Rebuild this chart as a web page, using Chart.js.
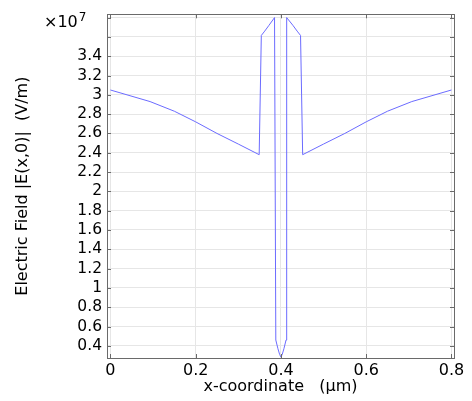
<!DOCTYPE html>
<html>
<head>
<meta charset="utf-8">
<script src="https://cdn.jsdelivr.net/npm/chart.js@4"></script>
<style>
  html, body { margin: 0; padding: 0; background: #fff; }
  #wrap { width: 472px; height: 401px; }
</style>
</head>
<body>
<div id="wrap"><canvas id="fieldChart"></canvas></div>
<script>
// field magnitude along the cut line, x in µm, E in V/m
const xCoord = [0, 0.093, 0.15, 0.2, 0.25, 0.3, 0.349, 0.354, 0.362, 0.372, 0.385,
  0.388, 0.393, 0.397, 0.4, 0.403, 0.407, 0.412, 0.4135, 0.428, 0.438, 0.446, 0.451,
  0.5, 0.55, 0.6, 0.65, 0.707, 0.8];
const fieldE = [3.05e7, 2.93e7, 2.83e7, 2.72e7, 2.60e7, 2.49e7, 2.38e7, 3.615e7, 3.66e7, 3.72e7, 3.80e7,
  0.46e7, 0.37e7, 0.31e7, 0.285e7, 0.31e7, 0.37e7, 0.46e7, 3.80e7, 3.72e7, 3.66e7, 3.615e7, 2.38e7,
  2.49e7, 2.60e7, 2.72e7, 2.83e7, 2.93e7, 3.05e7];

const xTicks = [0, 0.2, 0.4, 0.6, 0.8];
const yTicks = [0.4e7, 0.6e7, 0.8e7, 1.0e7, 1.2e7, 1.4e7, 1.6e7, 1.8e7, 2.0e7, 2.2e7,
  2.4e7, 2.6e7, 2.8e7, 3.0e7, 3.2e7, 3.4e7, 3.6e7, 3.8e7];
const yLabelMax = 3.4e7; // labels above this are left blank under the exponent

const FONT = "'DejaVu Sans', sans-serif";

// inward tick marks on all four sides, box outline and the exponent
const frame = {
  id: "frame",
  afterDraw(chart) {
    const { ctx, chartArea: a, scales } = chart;
    ctx.save();
    ctx.strokeStyle = "#6a6a6a";
    ctx.lineWidth = 1;
    ctx.beginPath();
    yTicks.forEach((v) => {
      const y = Math.round(scales.y.getPixelForValue(v)) + 0.5;
      ctx.moveTo(a.left, y); ctx.lineTo(a.left + 4, y);
      ctx.moveTo(a.right, y); ctx.lineTo(a.right - 4, y);
    });
    xTicks.forEach((v) => {
      const x = Math.round(scales.x.getPixelForValue(v)) + 0.5;
      ctx.moveTo(x, a.bottom); ctx.lineTo(x, a.bottom - 4);
      ctx.moveTo(x, a.top); ctx.lineTo(x, a.top + 4);
    });
    ctx.stroke();
    ctx.strokeRect(Math.round(a.left) + 0.5, Math.round(a.top) + 0.5,
      Math.round(a.right - a.left), Math.round(a.bottom - a.top));

    ctx.fillStyle = "#000";
    ctx.textBaseline = "alphabetic";
    ctx.textAlign = "left";
    ctx.font = "16px " + FONT;
    ctx.fillText("×10", 44, 27);
    const w = ctx.measureText("×10").width;
    ctx.font = "12px " + FONT;
    ctx.fillText("7", 44 + w + 1, 21);
    ctx.restore();
  },
};

const ctx = document.getElementById("fieldChart").getContext("2d");
new Chart(ctx, {
  type: "line",
  data: {
    datasets: [
      {
        data: xCoord.map((x, i) => ({ x: x, y: fieldE[i] })),
        borderColor: "#6b6bff",
        borderWidth: 1,
        pointRadius: 0,
        tension: 0,
        fill: false,
      },
    ],
  },
  options: {
    responsive: true,
    maintainAspectRatio: false,
    animation: false,
    layout: { padding: { top: 11, right: 18, left: 0, bottom: 0 } },
    plugins: {
      legend: { display: false },
      tooltip: { enabled: false },
    },
    scales: {
      x: {
        type: "linear",
        min: -0.008,
        max: 0.806,
        afterBuildTicks: (scale) => {
          scale.ticks = xTicks.map((v) => ({ value: v }));
        },
        afterFit: (scale) => { scale.height = 43; },
        grid: { color: "#e6e6e6", drawTicks: false },
        border: { display: false },
        ticks: {
          padding: 3,
          color: "#000",
          autoSkip: false,
          font: { family: FONT, size: 16 },
          maxRotation: 0,
          callback: (v) => String(v),
        },
        title: {
          display: true,
          text: "x-coordinate   (µm)",
          color: "#000",
          font: { family: FONT, size: 16 },
          padding: { top: 0, bottom: 5 },
        },
      },
      y: {
        min: 0.274e7,
        max: 3.834e7,
        afterBuildTicks: (scale) => {
          scale.ticks = yTicks.map((v) => ({ value: v }));
        },
        afterFit: (scale) => { scale.width = 107; },
        grid: { color: "#e6e6e6", drawTicks: false },
        border: { display: false },
        ticks: {
          padding: 5,
          color: "#000",
          autoSkip: false,
          font: { family: FONT, size: 15.5 },
          callback: (v) => (v > yLabelMax + 1 ? "" : String(Math.round(v / 1e6) / 10)),
        },
        title: {
          display: true,
          text: "Electric Field |E(x,0)|  (V/m)",
          color: "#000",
          font: { family: FONT, size: 16 },
          padding: { top: 13, bottom: 0 },
        },
      },
    },
  },
  plugins: [frame],
});
</script>
</body>
</html>
